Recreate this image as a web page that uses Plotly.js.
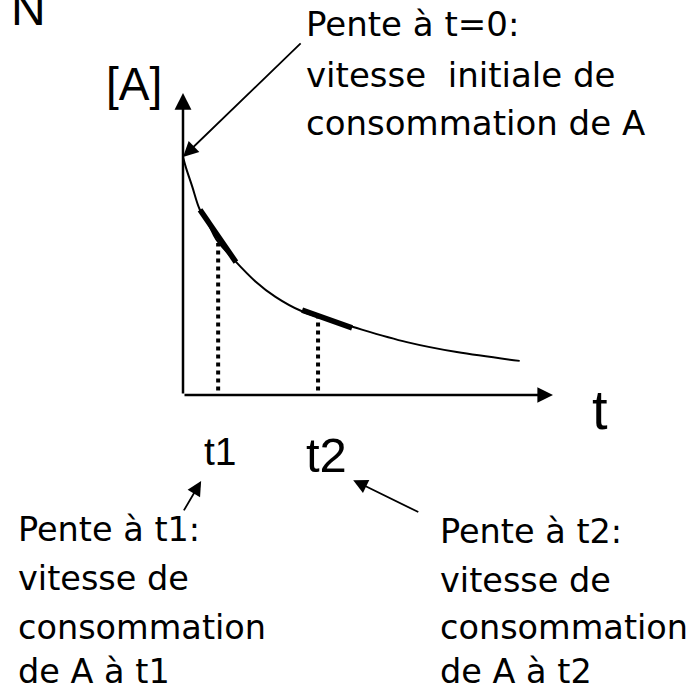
<!DOCTYPE html>
<html>
<head>
<meta charset="utf-8">
<script src="https://cdn.plot.ly/plotly-3.0.1.min.js"></script>
<style>
  html, body { margin: 0; padding: 0; background: #fff; }
  #chart { width: 700px; height: 691px; }
</style>
</head>
<body>
<div id="chart"></div>
<script>
var tCourbe = [0, 0.08, 0.25, 0.45, 0.7, 0.9, 1.4, 1.95, 2.5, 3.2, 4.6, 6.05, 7.4, 9.1];
var aCourbe = [7.88, 7.53, 6.9, 6.15, 5.63, 5.15, 4.45, 3.77, 3.25, 2.78, 2.25, 1.75, 1.42, 1.13];

// tangentes (pentes) a t1 et t2
var tPente1 = [0.46, 1.43];
var aPente1 = [6.13, 4.40];
var tPente2 = [3.22, 4.57];
var aPente2 = [2.81, 2.22];

// instants t1, t2 et [A] correspondante
var tInstants = [0.95, 3.65];
var aInstants = [5.03, 2.70];
var aBasPointilles = 0.15;

// axes : longueur des fleches
var tMax = 10;
var aMax = 10;

var CHART = document.getElementById('chart');

// conversion pixels -> papier, pour placer les textes
function px(x) { return x / 700; }
function py(y) { return 1 - y / 691; }

var data = [
    {x: tCourbe, y: aCourbe, mode: 'lines', line: {color: '#000', width: 2, shape: 'spline'}},
    {x: tPente1, y: aPente1, mode: 'lines', line: {color: '#000', width: 5.5}},
    {x: tPente2, y: aPente2, mode: 'lines', line: {color: '#000', width: 5.5}}
];
for (var i = 0; i < tInstants.length; i++) {
    data.push({
        x: [tInstants[i], tInstants[i]], y: [aBasPointilles, aInstants[i]],
        mode: 'lines', line: {color: '#000', width: 4, dash: 'dot'}
    });
}

var police = 'DejaVu Sans, sans-serif';
var arial = 'Liberation Sans, Arial, sans-serif';

function texte(t, x, y, taille, fam, ancre) {
    return {
        text: t, xref: 'paper', yref: 'paper', x: px(x), y: py(y),
        xanchor: ancre || 'left', yanchor: 'middle', showarrow: false,
        font: {family: fam, size: taille, color: '#000'}
    };
}
function fleche(x0, y0, x1, y1, larg, taille) {
    return {
        text: '', xref: 'x', yref: 'y', axref: 'x', ayref: 'y',
        x: x1, y: y1, ax: x0, ay: y0, showarrow: true,
        arrowhead: 2, arrowwidth: larg, arrowsize: taille, arrowcolor: '#000'
    };
}

var annotations = [
    // axes
    fleche(0, 0, 0, aMax, 2.5, 1.35),
    fleche(0, 0, tMax, 0, 2.5, 1.25),
    // fleches des commentaires
    fleche(3.22, 11.69, tCourbe[0], aCourbe[0], 1.8, 1.7),
    fleche(0, -3.87, 0.49, -2.85, 1.8, 1.6),
    fleche(6.4, -3.9, 4.6, -2.82, 1.8, 1.6),
    // etiquettes
    texte('N', 28, 8, 48, arial, 'center'),
    texte('[A]', 134, 84, 46, arial, 'center'),
    texte('t', 600, 409, 56, arial, 'center'),
    texte('t1', 220, 451, 39, arial, 'center'),
    texte('t2', 326, 455, 49, arial, 'center'),
    // commentaire du haut
    texte('Pente à t=0:', 304, 24, 34, police),
    texte('vitesse\u00a0 initiale de', 304, 75, 34, police),
    texte('consommation de A', 304, 123, 34, police),
    // commentaire bas gauche
    texte('Pente à t1:', 16, 529, 33.5, police),
    texte('vitesse de', 16, 578, 33.5, police),
    texte('consommation', 16, 627, 33.5, police),
    texte('de A à t1', 16, 671, 33.5, police),
    // commentaire bas droite
    texte('Pente à t2:', 438, 531, 33.5, police),
    texte('vitesse de', 438, 580, 33.5, police),
    texte('consommation', 438, 627, 33.5, police),
    texte('de A à t2', 438, 671, 33.5, police)
];

var layout = {
    width: 700, height: 691,
    margin: {l: 0, r: 0, t: 0, b: 0},
    paper_bgcolor: '#fff', plot_bgcolor: '#fff',
    showlegend: false,
    xaxis: {range: [-4.946, 13.973], visible: false, fixedrange: true},
    yaxis: {range: [-9.801, 13.079], visible: false, fixedrange: true},
    annotations: annotations
};

Plotly.newPlot(CHART, data, layout, {displayModeBar: false, staticPlot: true});
</script>
</body>
</html>
